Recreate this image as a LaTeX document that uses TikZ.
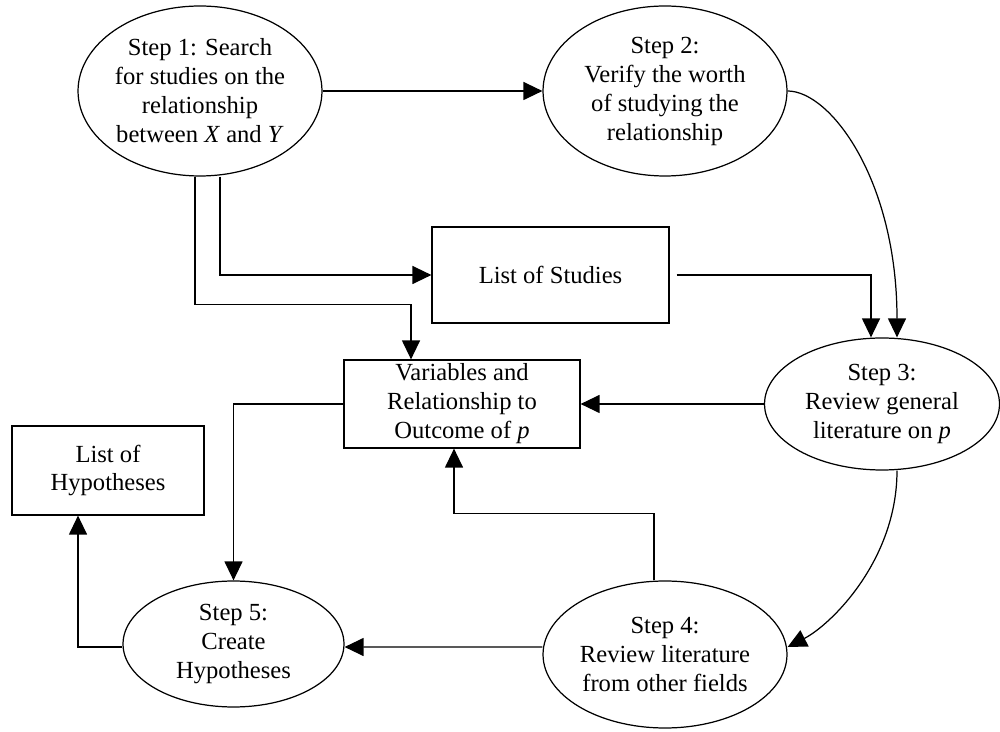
\documentclass[tikz,border=0pt]{standalone}
\usepackage{fontspec}
\setmainfont{Liberation Serif}
\usetikzlibrary{arrows.meta}
\usetikzlibrary{shapes.geometric}

\begin{document}
\begin{tikzpicture}[x=0.02cm, y=-0.02cm, line width=0.7pt,
  >={Triangle[length=3.8mm,width=3.6mm]},
  stepnode/.style={ellipse, draw, inner sep=0pt, align=center, font=\fontsize{14}{16.5}\selectfont},
  listbox/.style={rectangle, draw, inner sep=0pt, align=center, font=\fontsize{14}{16.5}\selectfont}]
\useasboundingbox (0,0) rectangle (1000,732);

% steps
\node[stepnode, minimum width=4.88cm, minimum height=3.4cm] (s1) at (200,91) {Step 1: Search\\for studies on the\\relationship\\between \textit{X} and \textit{Y}};
\node[stepnode, minimum width=4.88cm, minimum height=3.4cm] (s2) at (665,91) {Step 2:\\Verify the worth\\of studying the\\relationship};
\node[stepnode, minimum width=4.7cm, minimum height=2.64cm] (s3) at (882,404) {Step 3:\\Review general\\literature on \textit{p}};
\node[stepnode, minimum width=4.88cm, minimum height=2.94cm] (s4) at (665,654.5) {Step 4:\\Review literature\\from other fields};
\node[stepnode, minimum width=4.42cm, minimum height=2.52cm] (s5) at (233.5,644) {Step 5:\\Create\\Hypotheses};

% lists
\node[listbox, minimum width=4.74cm, minimum height=1.92cm] (studies) at (550.5,275) {List of Studies};
\node[listbox, minimum width=4.72cm, minimum height=1.76cm] (vars) at (462,404) {Variables and\\Relationship to\\Outcome of \textit{p}};
\node[listbox, minimum width=3.84cm, minimum height=1.78cm] (hyp) at (108,470.5) {List of\\Hypotheses};

\draw[->] (s1.east) -- (s2.west);
\draw[->] ([xshift=0.4cm]s1.south) |- (studies.west);
\draw[->] ([xshift=-0.1cm]s1.south) -- ++(0,128) -| ([xshift=-1.02cm]vars.north);
\draw[->, shorten <=0.14cm] (studies.east) -| ([xshift=-0.22cm]s3.north);
\draw[->] (s2.east) .. controls +(43,0) and +(0,-157) .. ([xshift=0.3cm]s3.north);
\draw[->] (s3.west) -- (vars.east);
\draw[->] ([xshift=0.3cm]s3.south) .. controls +(0,90) and +(43,-22) .. ([yshift=0.15cm]s4.east);
\draw[->] ([xshift=-0.22cm]s4.north) -- ++(0,-67) -| ([xshift=-0.16cm]vars.south);
\draw[->] ([yshift=0.15cm]s4.west) -- ([yshift=-0.06cm]s5.east);
\draw[->] (vars.west) -| (s5.north);
\draw[->] ([yshift=-0.06cm]s5.west) -| ([xshift=-0.6cm]hyp.south);
\end{tikzpicture}
\end{document}
